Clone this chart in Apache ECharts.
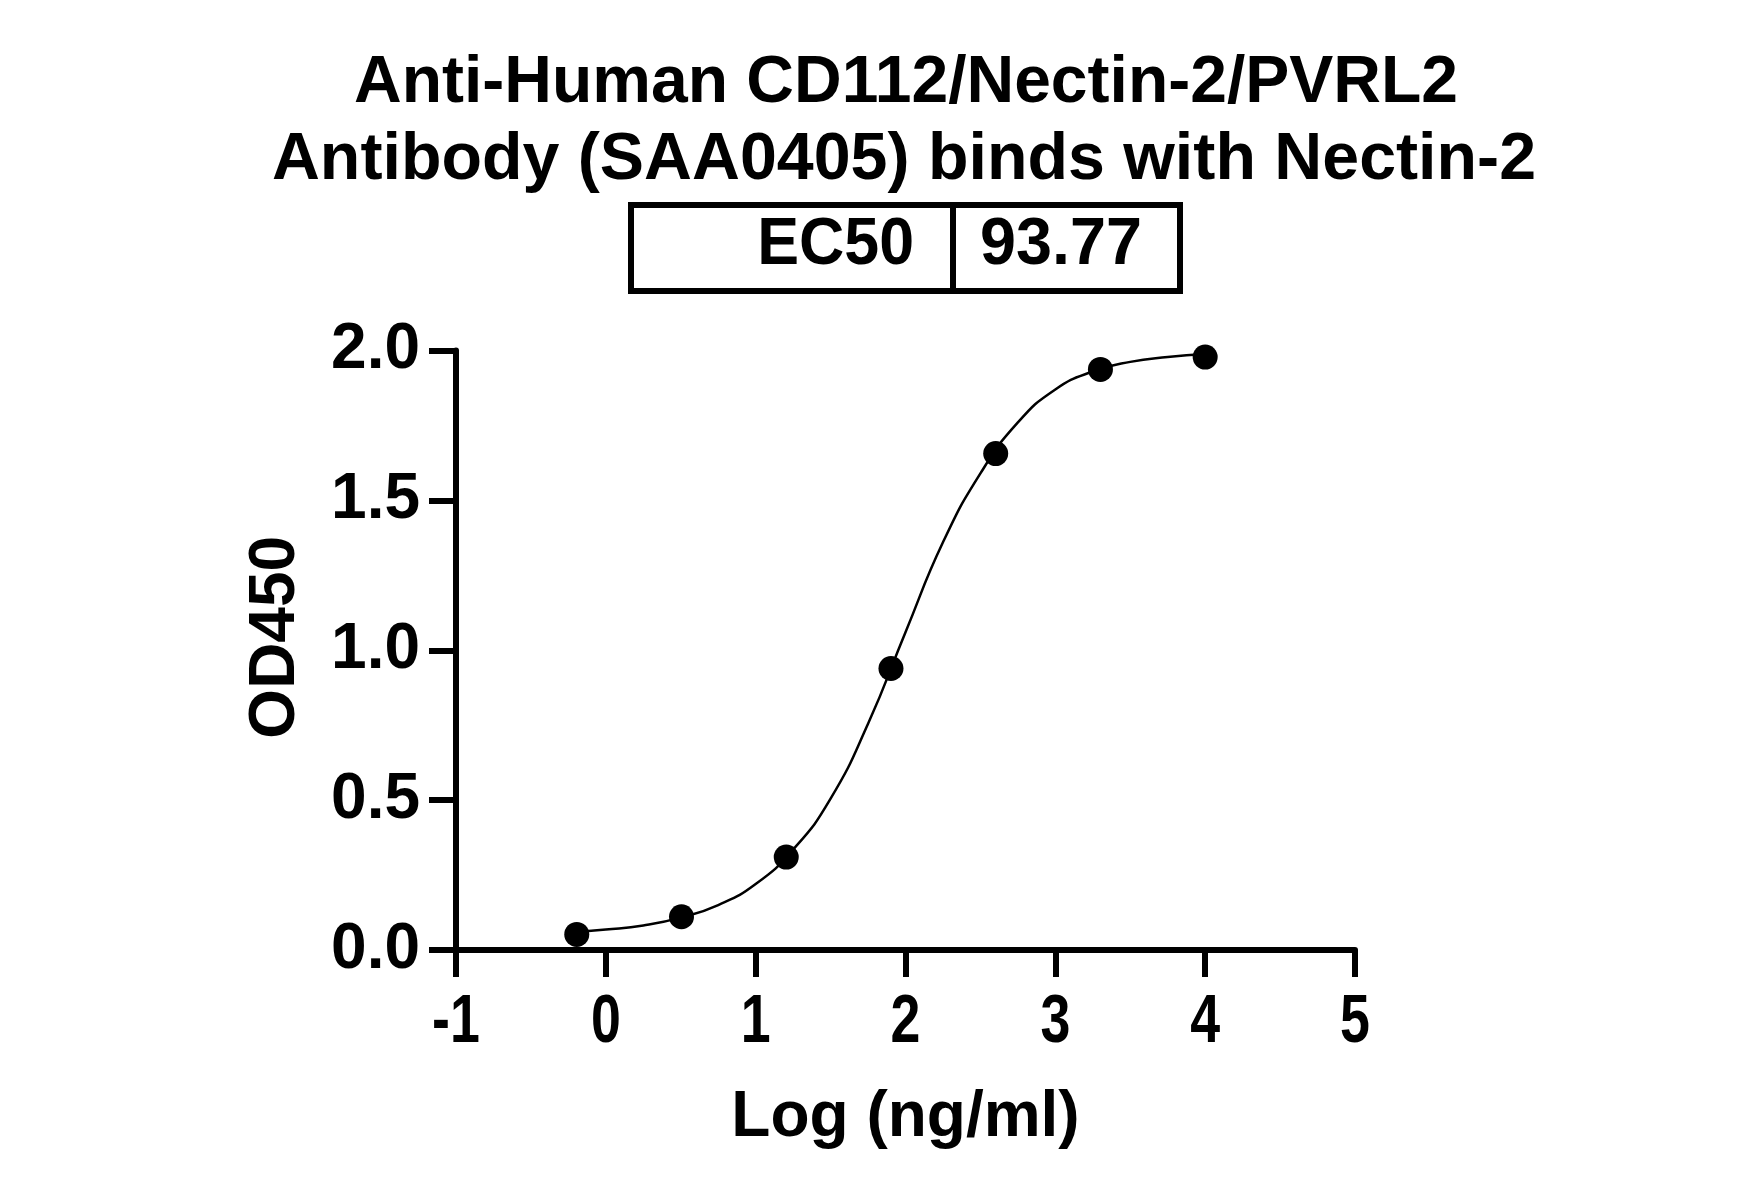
<!DOCTYPE html>
<html>
<head>
<meta charset="utf-8">
<script src="https://cdn.jsdelivr.net/npm/echarts@6/dist/echarts.min.js"></script>
<style>html,body{margin:0;padding:0;background:#fff;}#c{width:1739px;height:1197px;}</style>
</head>
<body>
<div id="c"></div>
<script>
// Measured points: log10 concentration (ng/ml) and OD450
var logConc = [-0.194, 0.505, 1.204, 1.903, 2.602, 3.301, 4.0];
var od450 = [0.052, 0.111, 0.310, 0.939, 1.656, 1.937, 1.978];
// Fitted curve
var curveX = [-0.194, 0.0, 0.25, 0.5, 0.75, 1.0, 1.25, 1.5, 1.75, 2.0, 2.25, 2.5, 2.75, 3.0, 3.25, 3.5, 3.75, 4.0];
var curveY = [0.060, 0.068, 0.082, 0.108, 0.150, 0.220, 0.335, 0.505, 0.755, 1.060, 1.360, 1.590, 1.760, 1.870, 1.930, 1.962, 1.978, 1.988];
var xTicks = [-1, 0, 1, 2, 3, 4, 5];
var yTicks = [0.0, 0.5, 1.0, 1.5, 2.0];
var titleLines = ['Anti-Human CD112/Nectin-2/PVRL2', 'Antibody (SAA0405) binds with Nectin-2'];
var ec50Label = 'EC50';
var ec50Value = '93.77';
var xName = 'Log (ng/ml)';
var yName = 'OD450';

var chart = echarts.init(document.getElementById('c'), null, {renderer: 'canvas'});
var font = '"Liberation Sans", Arial, sans-serif';
var AXW = 6;

var pts = logConc.map(function (x, i) { return [x, od450[i]]; });
var curve = curveX.map(function (x, i) { return [x, curveY[i]]; });

var graphics = [
  {type: 'text', id: 't1', x: 906, y: 84, style: {text: titleLines[0], font: 'bold 66px ' + font, fill: '#000', align: 'center', verticalAlign: 'middle'}},
  {type: 'text', id: 't2', x: 904, y: 161, style: {text: titleLines[1], font: 'bold 66px ' + font, fill: '#000', align: 'center', verticalAlign: 'middle'}, scaleX: 1.005},
  {type: 'rect', id: 'box', shape: {x: 631, y: 205, width: 549, height: 86}, style: {fill: 'none', stroke: '#000', lineWidth: AXW}},
  {type: 'line', id: 'div', shape: {x1: 953, y1: 205, x2: 953, y2: 291}, style: {stroke: '#000', lineWidth: AXW}},
  {type: 'text', id: 'ecl', x: 914, y: 246, style: {text: ec50Label, font: 'bold 66px ' + font, fill: '#000', align: 'right', verticalAlign: 'middle'}, scaleX: 0.95},
  {type: 'text', id: 'ecv', x: 980, y: 246, style: {text: ec50Value, font: 'bold 66px ' + font, fill: '#000', align: 'left', verticalAlign: 'middle'}, scaleX: 0.98}
];

chart.setOption({
  backgroundColor: '#ffffff',
  animation: false,
  graphic: graphics,
  grid: {left: 456, right: 384, top: 350.5, bottom: 247, containLabel: false},
  xAxis: {
    type: 'value', min: xTicks[0], max: xTicks[xTicks.length - 1], interval: 1,
    name: xName, nameLocation: 'middle', nameGap: 136,
    nameTextStyle: {fontFamily: font, fontWeight: 'bold', fontSize: 64, color: '#000'},
    axisLine: {onZero: false, lineStyle: {color: '#000', width: AXW}},
    axisTick: {show: true, length: 27, lineStyle: {color: '#000', width: AXW}},
    axisLabel: {show: false},
    splitLine: {show: false}
  },
  yAxis: {
    type: 'value', min: yTicks[0], max: yTicks[yTicks.length - 1], interval: 0.5,
    name: yName, nameLocation: 'middle', nameGap: 148, nameRotate: 90,
    nameTextStyle: {fontFamily: font, fontWeight: 'bold', fontSize: 64, color: '#000', padding: [0, 0, 0, 26]},
    axisLine: {onZero: false, lineStyle: {color: '#000', width: AXW}},
    axisTick: {show: true, length: 27, lineStyle: {color: '#000', width: AXW}},
    axisLabel: {fontFamily: font, fontWeight: 'bold', fontSize: 64, color: '#000', margin: 36,
      formatter: function (v) { return v.toFixed(1); }},
    splitLine: {show: false}
  },
  series: [
    {type: 'line', data: curve, smooth: true, showSymbol: false, silent: true,
      lineStyle: {color: '#000', width: 2.5}, z: 2},
    {type: 'scatter', data: pts, symbol: 'circle', symbolSize: 25,
      itemStyle: {color: '#000', opacity: 1}, z: 3}
  ]
});

// x tick labels (condensed) placed through the axis scale
var y0 = chart.convertToPixel({yAxisIndex: 0}, yTicks[0]);
var xLabelGraphics = xTicks.map(function (v, i) {
  return {type: 'text', id: 'xl' + i, x: chart.convertToPixel({xAxisIndex: 0}, v), y: y0 + 73,
    scaleX: 0.79,
    style: {text: String(v), font: 'bold 68px ' + font, fill: '#000', align: 'center', verticalAlign: 'middle'}};
});
chart.setOption({graphic: graphics.concat(xLabelGraphics)});
</script>
</body>
</html>
